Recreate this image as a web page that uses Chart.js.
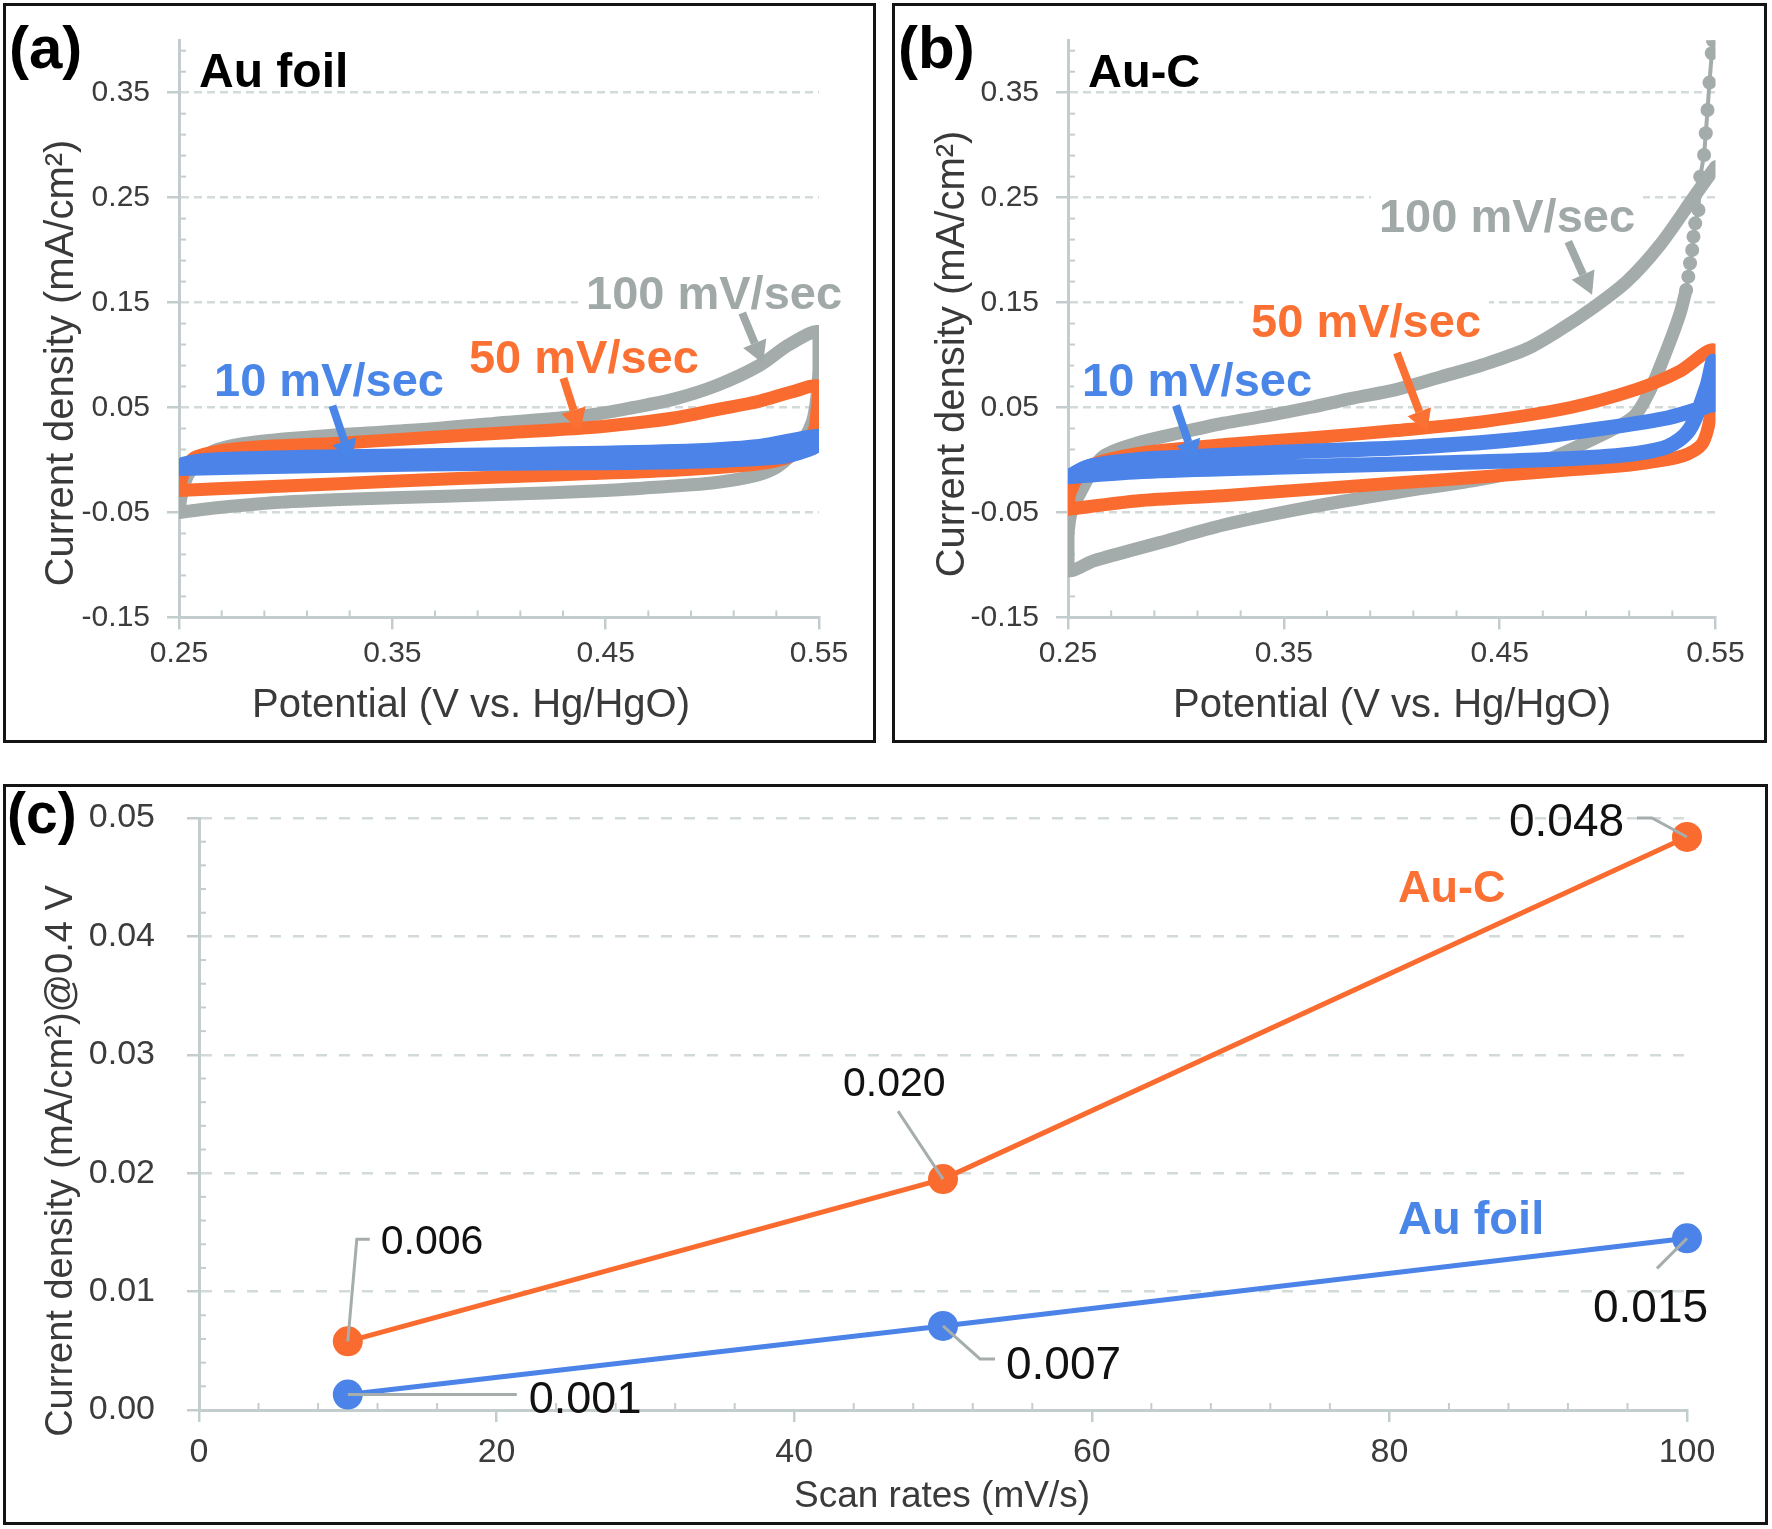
<!DOCTYPE html>
<html><head><meta charset="utf-8">
<script src="https://cdn.jsdelivr.net/npm/chart.js@4.4.0/dist/chart.umd.min.js"></script>
<style>
html,body{margin:0;padding:0;background:#fff;}
body{width:1772px;height:1529px;position:relative;overflow:hidden;}
.panel{position:absolute;box-sizing:border-box;border:3px solid #141414;background:#fff;}
.panel .cv{position:absolute;left:0;top:0;right:0;bottom:0;}
</style></head><body>
<div class="panel" style="left:3px;top:3px;width:873px;height:740px;"><div class="cv"><canvas id="ca"></canvas></div></div>
<div class="panel" style="left:892px;top:3px;width:875px;height:740px;"><div class="cv"><canvas id="cb"></canvas></div></div>
<div class="panel" style="left:3px;top:784px;width:1765px;height:741px;"><div class="cv"><canvas id="cc"></canvas></div></div>
<script>
// ---------------- DATA ----------------
// Panel (a) Au foil : potential (V vs Hg/HgO) and current density (mA/cm2)
const foil100V = [0.25, 0.251, 0.254, 0.26, 0.268, 0.285, 0.325, 0.364, 0.404, 0.443, 0.463, 0.482, 0.502, 0.522, 0.536, 0.55, 0.55, 0.549, 0.547, 0.543, 0.537, 0.53, 0.52, 0.50, 0.48, 0.45, 0.40, 0.35, 0.30, 0.27, 0.25];
const foil100J = [-0.05, -0.035, -0.015, 0.0, 0.01, 0.017, 0.024, 0.029, 0.036, 0.043, 0.05, 0.058, 0.071, 0.09, 0.11, 0.122, 0.086, 0.06, 0.037, 0.02, 0.005, -0.007, -0.015, -0.022, -0.025, -0.029, -0.033, -0.036, -0.040, -0.045, -0.05];
const foil50V = [0.25, 0.251, 0.253, 0.258, 0.278, 0.325, 0.364, 0.404, 0.443, 0.463, 0.482, 0.502, 0.522, 0.5375, 0.55, 0.549, 0.548, 0.544, 0.536, 0.52, 0.482, 0.443, 0.404, 0.364, 0.325, 0.2855, 0.25];
const foil50J = [-0.029, -0.02, -0.008, 0.003, 0.011, 0.016, 0.021, 0.026, 0.031, 0.035, 0.040, 0.048, 0.056, 0.065, 0.070, 0.045, 0.03, 0.015, 0.003, -0.004, -0.0097, -0.013, -0.016, -0.019, -0.0226, -0.026, -0.029];
const foil10V = [0.25, 0.252, 0.266, 0.325, 0.404, 0.482, 0.522, 0.55, 0.55, 0.545, 0.532, 0.482, 0.404, 0.325, 0.25];
const foil10J = [-0.008, -0.004, 0.0, 0.003, 0.005, 0.008, 0.013, 0.0226, 0.016, 0.01, 0.003, -0.0016, -0.003, -0.005, -0.008];

// Panel (b) Au-C
const auc100V = [0.5364, 0.5336, 0.5274, 0.5197, 0.512, 0.493, 0.4627, 0.4426, 0.402, 0.362, 0.322, 0.292, 0.262, 0.25, 0.25, 0.2517, 0.2557, 0.2658, 0.2818, 0.302, 0.322, 0.342, 0.362, 0.382, 0.402, 0.4225, 0.4426, 0.4627, 0.478, 0.4933, 0.5089, 0.5243, 0.5398, 0.55];
const auc100J = [0.162, 0.1398, 0.1048, 0.0667, 0.0413, 0.0196, -0.0077, -0.018, -0.031, -0.045, -0.062, -0.079, -0.096, -0.105, -0.072, -0.048, -0.031, 0.0025, 0.016, 0.026, 0.035, 0.042, 0.050, 0.059, 0.067, 0.079, 0.091, 0.106, 0.124, 0.145, 0.170, 0.205, 0.250, 0.2795];
const auc100TurnV = [0.5488, 0.5483, 0.5472, 0.5463, 0.5455, 0.5447, 0.5429, 0.5421, 0.5406, 0.5398, 0.5392, 0.5382, 0.5374, 0.5364];
const auc100TurnJ = [0.40, 0.3876, 0.3596, 0.3335, 0.3113, 0.2906, 0.27, 0.2382, 0.2255, 0.2128, 0.2001, 0.1874, 0.1747, 0.162];
const auc50V = [0.25, 0.251, 0.258, 0.2818, 0.322, 0.362, 0.402, 0.4426, 0.4828, 0.513, 0.533, 0.549, 0.55, 0.548, 0.544, 0.535, 0.513, 0.4828, 0.4426, 0.402, 0.362, 0.322, 0.2818, 0.25];
const auc50J = [-0.047, -0.031, -0.0077, 0.006, 0.0145, 0.021, 0.028, 0.0366, 0.050, 0.067, 0.084, 0.105, 0.075, 0.045, 0.016, 0.004, -0.004, -0.0094, -0.016, -0.022, -0.028, -0.034, -0.039, -0.047];
const auc10V = [0.25, 0.26, 0.2845, 0.3065, 0.35, 0.407, 0.45, 0.487, 0.5276, 0.5475, 0.55, 0.549, 0.546, 0.5378, 0.5276, 0.507, 0.467, 0.407, 0.346, 0.2845, 0.25];
const auc10J = [-0.016, -0.006, 0.0008, 0.003, 0.0075, 0.012, 0.018, 0.027, 0.040, 0.052, 0.054, 0.094, 0.07, 0.0286, 0.0127, 0.0048, 0.0, -0.0035, -0.007, -0.011, -0.016];

// Panel (c) current density at 0.4 V vs scan rate
const scanRates = [10, 50, 100];
const aucAt04 = [0.0058, 0.0195, 0.0484];
const foilAt04 = [0.0013, 0.0071, 0.0145];
const aucLabels = ['0.006', '0.020', '0.048'];
const foilLabels = ['0.001', '0.007', '0.015'];

// Tick labels
const cvXTicks = ['0.25', '0.35', '0.45', '0.55'];
const cvYTicks = ['-0.15', '-0.05', '0.05', '0.15', '0.25', '0.35'];
const rateXTicks = ['0', '20', '40', '60', '80', '100'];
const rateYTicks = ['0.00', '0.01', '0.02', '0.03', '0.04', '0.05'];
const cvSeriesLabels = ['100 mV/sec', '50 mV/sec', '10 mV/sec'];

// ---------------- STYLE ----------------
const GRAY = '#a3abab', ORANGE = '#fa6b2f', BLUE = '#4b83e8';
const GRAYTXT = '#a0a8a8', ORANGETXT = '#fb7033', BLUETXT = '#4a86e8';
const AXIS = '#c4cdcd', GRID = '#d3dada', TICKTXT = '#3c3c3c', TITLETXT = '#3a3a3a', LEADER = '#a5adad';
const FONT = "'Liberation Sans', Arial, Helvetica, sans-serif";

function zip(xs, ys) { return xs.map((x, i) => ({x: x, y: ys[i]})); }
function buildTicks(min, max, step) {
  const out = [];
  for (let k = 0; ; k++) {
    const v = +(min + k * step).toFixed(6);
    if (v > max + 1e-9) break;
    out.push({value: v});
  }
  return out;
}
function findLabel(v, labels) { return labels.find(l => Math.abs(parseFloat(l) - v) < 1e-6); }

function axisCfg(o) {
  return {
    type: 'linear', min: o.min, max: o.max,
    afterBuildTicks: s => { s.ticks = buildTicks(o.min, o.max, o.step); },
    afterFit: s => {
      if (o.width != null) s.width = o.width;
      if (o.height != null) s.height = o.height;
      s.paddingTop = 0; s.paddingBottom = 0; s.paddingLeft = 0; s.paddingRight = 0;
    },
    ticks: {
      autoSkip: false, maxRotation: 0, minRotation: 0, padding: o.pad, color: TICKTXT,
      font: {family: FONT, size: o.font},
      callback: v => { const l = findLabel(v, o.labels); return l === undefined ? '' : l; }
    },
    grid: {
      drawOnChartArea: o.grid,
      lineWidth: 2.5,
      color: c => (c.tick && findLabel(c.tick.value, o.labels) !== undefined && Math.abs(c.tick.value - o.min) > 1e-9) ? GRID : 'rgba(0,0,0,0)',
      tickLength: 12, tickWidth: 2.5,
      tickColor: c => (c.tick && findLabel(c.tick.value, o.labels) !== undefined) ? AXIS : 'rgba(0,0,0,0)'
    },
    border: {display: true, color: AXIS, width: 3, dash: o.dash || []}
  };
}

function drawArrow(ctx, x1, y1, x2, y2, color) {
  const w = 8, hl = 22, hw = 25;
  const a = Math.atan2(y2 - y1, x2 - x1);
  const bx = x2 - hl * Math.cos(a), by = y2 - hl * Math.sin(a);
  ctx.save();
  ctx.strokeStyle = color; ctx.fillStyle = color; ctx.lineWidth = w;
  ctx.beginPath(); ctx.moveTo(x1, y1); ctx.lineTo(bx, by); ctx.stroke();
  ctx.beginPath(); ctx.moveTo(x2, y2);
  ctx.lineTo(bx + hw / 2 * Math.sin(a), by - hw / 2 * Math.cos(a));
  ctx.lineTo(bx - hw / 2 * Math.sin(a), by + hw / 2 * Math.cos(a));
  ctx.closePath(); ctx.fill(); ctx.restore();
}

function decor(cfg) {
  const toPx = (chart, t) => {
    if (t.at) {
      const x = chart.scales.x.getPixelForValue(t.at[0]) + (t.off ? t.off[0] : 0);
      const y = chart.scales.y.getPixelForValue(t.at[1]) + (t.off ? t.off[1] : 0);
      return {x, y};
    }
    return {x: t.px[0], y: t.px[1]};
  };
  return {
    id: 'decor_' + cfg.name,
    beforeDatasetsDraw(chart) {
      const ctx = chart.ctx, ca = chart.chartArea;
      ctx.save(); ctx.strokeStyle = AXIS; ctx.lineWidth = 2;
      const sx = chart.scales.x, sy = chart.scales.y;
      sx.ticks.forEach(t => { if (findLabel(t.value, cfg.xLabels) === undefined) { const p = sx.getPixelForValue(t.value); ctx.beginPath(); ctx.moveTo(p, ca.bottom); ctx.lineTo(p, ca.bottom - 7); ctx.stroke(); } });
      sy.ticks.forEach(t => { if (findLabel(t.value, cfg.yLabels) === undefined) { const p = sy.getPixelForValue(t.value); ctx.beginPath(); ctx.moveTo(ca.left, p); ctx.lineTo(ca.left + 7, p); ctx.stroke(); } });
      ctx.restore();
      (cfg.texts || []).forEach(t => {
        if (!t.bg) return;
        const p = toPx(chart, t);
        ctx.save(); ctx.font = t.font;
        const m = ctx.measureText(t.text);
        const w = m.width;
        const x0 = t.align === 'center' ? p.x - w / 2 : (t.align === 'right' ? p.x - w : p.x);
        ctx.fillStyle = '#fff';
        ctx.fillRect(x0 - 8, p.y - m.actualBoundingBoxAscent - 10, w + 16, m.actualBoundingBoxAscent + m.actualBoundingBoxDescent + 16);
        ctx.restore();
      });
    },
    afterDatasetsDraw(chart) {
      const ctx = chart.ctx;
      (cfg.leaders || []).forEach(l => {
        const b = toPx(chart, {at: l.at});
        ctx.save(); ctx.strokeStyle = LEADER; ctx.lineWidth = 3; ctx.beginPath();
        l.path.forEach((q, i) => { if (i === 0) ctx.moveTo(b.x + q[0], b.y + q[1]); else ctx.lineTo(b.x + q[0], b.y + q[1]); });
        ctx.stroke(); ctx.restore();
      });
      (cfg.arrows || []).forEach(a => {
        const p1 = toPx(chart, {at: a.from}), p2 = toPx(chart, {at: a.to});
        drawArrow(ctx, p1.x, p1.y, p2.x, p2.y, a.color);
      });
      (cfg.texts || []).forEach(t => {
        const p = toPx(chart, t);
        ctx.save(); ctx.font = t.font; ctx.fillStyle = t.color;
        ctx.textAlign = t.align || 'left'; ctx.textBaseline = t.baseline || 'alphabetic';
        ctx.translate(p.x, p.y);
        if (t.rotate) ctx.rotate(t.rotate * Math.PI / 180);
        ctx.fillText(t.text, 0, 0);
        ctx.restore();
      });
    }
  };
}

function cvDataset(label, xs, ys, color, width, order) {
  return {label, data: zip(xs, ys), showLine: true, borderColor: color, backgroundColor: color,
    borderWidth: width, pointRadius: 0, tension: 0.3, borderCapStyle: 'round', borderJoinStyle: 'round', order};
}

const baseOpts = {
  responsive: true, maintainAspectRatio: false, animation: false,
  plugins: {legend: {display: false}, tooltip: {enabled: false}}
};

function cvOptions(rightPad) {
  return Object.assign({}, baseOpts, {
    layout: {padding: {left: 0, top: 34.2, right: rightPad, bottom: 0}},
    scales: {
      x: axisCfg({min: 0.25, max: 0.55, step: 0.02, labels: cvXTicks, font: 30, pad: 6, height: 122.6, grid: false}),
      y: axisCfg({min: -0.15, max: 0.40, step: 0.02, labels: cvYTicks, font: 30, pad: 17, width: 173, grid: true, dash: [8, 5]})
    }
  });
}

const bold = s => `bold ${s}px ${FONT}`, reg = s => `${s}px ${FONT}`;

// ---------------- PANEL (a) ----------------
new Chart(document.getElementById('ca'), {
  type: 'scatter',
  data: {datasets: [
    cvDataset(cvSeriesLabels[2], foil10V, foil10J, BLUE, 15, 1),
    cvDataset(cvSeriesLabels[1], foil50V, foil50J, ORANGE, 13, 2),
    cvDataset(cvSeriesLabels[0], foil100V, foil100J, GRAY, 13, 3)
  ]},
  options: cvOptions(54),
  plugins: [decor({
    name: 'a', xLabels: cvXTicks, yLabels: cvYTicks,
    texts: [
      {text: '(a)', px: [3, 62], font: bold(60), color: '#000'},
      {text: 'Au foil', px: [193, 81], font: bold(48), color: '#000'},
      {text: 'Potential (V vs. Hg/HgO)', px: [465, 700], font: reg(40), color: TITLETXT, align: 'center', baseline: 'middle'},
      {text: 'Current density (mA/cm²)', px: [56, 357], font: reg(40), color: TITLETXT, align: 'center', baseline: 'middle', rotate: -90},
      {text: cvSeriesLabels[0], at: [0.5008, 0.1439], font: bold(47), color: GRAYTXT, align: 'center', bg: true},
      {text: cvSeriesLabels[1], at: [0.4398, 0.0829], font: bold(47), color: ORANGETXT, align: 'center', bg: true},
      {text: cvSeriesLabels[2], at: [0.3203, 0.061], font: bold(47), color: BLUETXT, align: 'center', bg: true}
    ],
    arrows: [
      {from: [0.514, 0.140], to: [0.5238, 0.0919], color: GRAYTXT},
      {from: [0.4302, 0.0780], to: [0.4381, 0.0274], color: ORANGETXT},
      {from: [0.3219, 0.0516], to: [0.3308, -0.002], color: BLUETXT}
    ]
  })]
});

// ---------------- PANEL (b) ----------------
new Chart(document.getElementById('cb'), {
  type: 'scatter',
  data: {datasets: [
    cvDataset(cvSeriesLabels[2], auc10V, auc10J, BLUE, 15, 1),
    cvDataset(cvSeriesLabels[1], auc50V, auc50J, ORANGE, 13, 2),
    cvDataset(cvSeriesLabels[0], auc100V, auc100J, GRAY, 13, 3),
    Object.assign(cvDataset(cvSeriesLabels[0] + ' (turn)', auc100TurnV, auc100TurnJ, GRAY, 4, 4),
      {pointRadius: 7, pointBorderWidth: 0, pointBackgroundColor: GRAY, tension: 0})
  ]},
  options: cvOptions(48.5),
  plugins: [decor({
    name: 'b', xLabels: cvXTicks, yLabels: cvYTicks,
    texts: [
      {text: '(b)', px: [3, 62], font: bold(60), color: '#000'},
      {text: 'Au-C', px: [193, 81], font: bold(47), color: '#000'},
      {text: 'Potential (V vs. Hg/HgO)', px: [497, 700], font: reg(40), color: TITLETXT, align: 'center', baseline: 'middle'},
      {text: 'Current density (mA/cm²)', px: [58, 348], font: reg(40), color: TITLETXT, align: 'center', baseline: 'middle', rotate: -90},
      {text: cvSeriesLabels[0], at: [0.4534, 0.2173], font: bold(47), color: GRAYTXT, align: 'center', bg: true},
      {text: cvSeriesLabels[1], at: [0.3881, 0.1172], font: bold(47), color: ORANGETXT, align: 'center', bg: true},
      {text: cvSeriesLabels[2], at: [0.3098, 0.061], font: bold(47), color: BLUETXT, align: 'center', bg: true}
    ],
    arrows: [
      {from: [0.4818, 0.2080], to: [0.4928, 0.1574], color: GRAYTXT},
      {from: [0.4024, 0.1020], to: [0.4164, 0.0264], color: ORANGETXT},
      {from: [0.30, 0.0520], to: [0.309, -0.0026], color: BLUETXT}
    ]
  })]
});

// ---------------- PANEL (c) ----------------
new Chart(document.getElementById('cc'), {
  type: 'scatter',
  data: {datasets: [
    {label: 'Au-C', data: zip(scanRates, aucAt04), showLine: true, borderColor: ORANGE, backgroundColor: ORANGE,
     borderWidth: 5, pointRadius: 15, pointBorderWidth: 0, pointBackgroundColor: ORANGE, tension: 0, clip: false},
    {label: 'Au foil', data: zip(scanRates, foilAt04), showLine: true, borderColor: BLUE, backgroundColor: BLUE,
     borderWidth: 5, pointRadius: 15, pointBorderWidth: 0, pointBackgroundColor: BLUE, tension: 0, clip: false}
  ]},
  options: Object.assign({}, baseOpts, {
    layout: {padding: {left: 0, top: 31, right: 78, bottom: 0}},
    scales: {
      x: axisCfg({min: 0, max: 100, step: 4, labels: rateXTicks, font: 34, pad: 10, height: 112, grid: false}),
      y: axisCfg({min: 0, max: 0.05, step: 0.002, labels: rateYTicks, font: 34, pad: 32, width: 193, grid: true, dash: [11, 12]})
    }
  }),
  plugins: [decor({
    name: 'c', xLabels: rateXTicks, yLabels: rateYTicks,
    texts: [
      {text: '(c)', px: [1, 46], font: bold(57), color: '#000'},
      {text: 'Scan rates (mV/s)', px: [936, 710], font: reg(37), color: TITLETXT, align: 'center', baseline: 'middle'},
      {text: 'Current density (mA/cm²)@0.4 V', px: [56, 374], font: reg(38), color: TITLETXT, align: 'center', baseline: 'middle', rotate: -90},
      {text: 'Au-C', px: [1392, 115], font: bold(45), color: ORANGETXT},
      {text: 'Au foil', px: [1392, 447], font: bold(47), color: BLUETXT},
      {text: aucLabels[0], at: [scanRates[0], aucAt04[0]], off: [33, -87], font: reg(41), color: '#111'},
      {text: aucLabels[1], at: [scanRates[1], aucAt04[1]], off: [-100, -83], font: reg(41), color: '#111'},
      {text: aucLabels[2], at: [scanRates[2], aucAt04[2]], off: [-178, -1], font: reg(46), color: '#111'},
      {text: foilLabels[0], at: [scanRates[0], foilAt04[0]], off: [181, 18], font: reg(45), color: '#111'},
      {text: foilLabels[1], at: [scanRates[1], foilAt04[1]], off: [63, 53], font: reg(46), color: '#111'},
      {text: foilLabels[2], at: [scanRates[2], foilAt04[2]], off: [-94, 84], font: reg(46), color: '#111'}
    ],
    leaders: [
      {at: [scanRates[0], aucAt04[0]], path: [[0, 0], [9, -102], [22, -102]]},
      {at: [scanRates[1], aucAt04[1]], path: [[0, 0], [-45, -68]]},
      {at: [scanRates[2], aucAt04[2]], path: [[0, 0], [-35, -19], [-50, -19]]},
      {at: [scanRates[0], foilAt04[0]], path: [[0, 0], [169, 0]]},
      {at: [scanRates[1], foilAt04[1]], path: [[0, 0], [37, 33], [52, 33]]},
      {at: [scanRates[2], foilAt04[2]], path: [[0, 0], [-30, 30]]}
    ]
  })]
});
</script>
</body></html>
